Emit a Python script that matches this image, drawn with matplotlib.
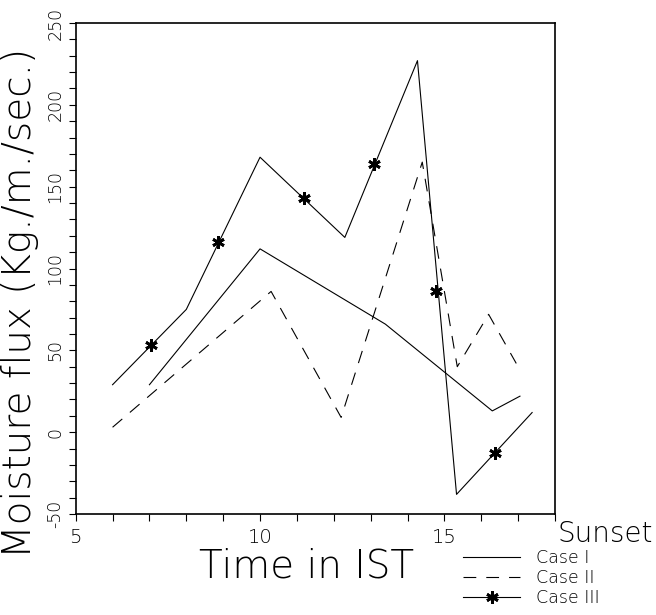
import numpy as np
from matplotlib import pyplot as plt

# Case I (solid)
case1_t = [7.0, 10.0, 13.4, 16.3, 17.05]
case1_v = [29, 112, 66, 13, 22]

# Case II (dashed)
case2_t = [6.0, 10.3, 12.2, 14.4, 15.35, 16.2, 16.95]
case2_v = [3, 86, 9, 165, 40, 72, 42]

# Case III (solid with stars)
case3_t = [6.0, 8.0, 10.0, 12.3, 14.27, 15.33, 17.38]
case3_v = [29, 75, 168, 119, 227, -38, 12]
# star symbols sit along the line, not on the vertices
star_t = [7.03, 8.86, 11.19, 13.08, 14.78, 16.36]
star_v = [53, 116, 143, 164, 86, -13]

xticks = [5, 10, 15]
yticks = [-50, 0, 50, 100, 150, 200, 250]

plt.rcParams['font.family'] = ['DejaVu Sans']
plt.rcParams['font.weight'] = 'light'

fig = plt.figure(figsize=(6.56, 6.15), dpi=100)
ax = fig.add_axes([0.1154, 0.1642, 0.7306, 0.7984])

lw = 0.8
ax.plot(case1_t, case1_v, color='black', lw=lw, label='Case I')
ax.plot(case2_t, case2_v, color='black', lw=lw, ls=(0, (11.5, 9)), label='Case II')
l3, = ax.plot(case3_t, case3_v, color='black', lw=lw)
s3, = ax.plot(star_t, star_v, ls='none', marker=(6, 2, 0), ms=9, mew=2.0,
              color='black')

ax.set_xlim(5, 18)
ax.set_ylim(-50, 250)
ax.set_xticks(np.arange(5, 19, 1), minor=False)
ax.set_xticklabels([str(t) if t in xticks else '' for t in range(5, 19)])
ax.set_yticks(np.arange(-50, 251, 10))
ax.set_yticklabels([str(v) if v in yticks else '' for v in range(-50, 251, 10)])

ax.tick_params(axis='x', direction='out', length=5, width=0.8, labelsize=14, pad=5)
ax.tick_params(axis='y', direction='out', length=5, width=0.8, labelsize=12.5,
               pad=3, labelrotation=90)
for lab in ax.get_yticklabels():
    lab.set_va('center')
for sp in ax.spines.values():
    sp.set_linewidth(1.2)

fig.text(1 / 656, 1 - 303 / 615, 'Moisture flux (Kg./m./sec.)', rotation=90,
         ha='left', va='center', fontsize=28)
fig.text(306.5 / 656, 1 - 577 / 615, 'Time in IST', ha='center', va='baseline',
         fontsize=28)
fig.text(557 / 656, 1 - 542 / 615, 'Sunset', ha='left', va='baseline', fontsize=20)

h1, h2 = ax.get_lines()[0], ax.get_lines()[1]
fig.legend([h1, h2, (l3, s3)], ['Case I', 'Case II', 'Case III'],
           loc='upper left', bbox_to_anchor=(463 / 656, 1 - 549 / 615),
           frameon=False, fontsize=12.5, handlelength=3.3, handletextpad=0.9,
           labelspacing=0.12, borderpad=0, borderaxespad=0, numpoints=1)

plt.savefig('out.png', dpi=100)
